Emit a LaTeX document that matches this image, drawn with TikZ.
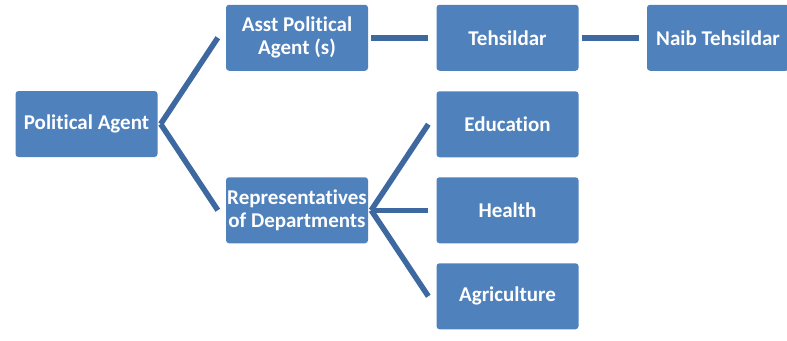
\documentclass[tikz,border=0pt]{standalone}
\usepackage{fontspec}
\setmainfont{Carlito}[Ligatures=NoCommon]
\definecolor{boxblue}{RGB}{79,129,189}
\definecolor{linkblue}{RGB}{62,104,160}

\begin{document}
\begin{tikzpicture}[x=1pt,y=1pt,grow=right,level distance=210.5pt,level 1/.style={sibling distance=172.5pt},level 2/.style={sibling distance=86pt},every node/.style = {fill=boxblue, text=white, align=center, shape=rectangle, rounded corners=3pt, minimum width=142pt, minimum height=66pt, inner sep=0pt, font=\fontsize{21}{23}\selectfont\bfseries},edge from parent/.style={draw=linkblue, line width=5.5pt},edge from parent path={([xshift=3pt]\tikzparentnode.east) -- ([xshift=-8pt]\tikzchildnode.west)}]
\useasboundingbox (0,0) rectangle (787,-340);
\node(pa) at (86.5,-124) {Political Agent}
child { node (rep) {Representatives\\of Departments}
child { node (agri) {Agriculture} }
child { node (health) {Health} }
child { node (edu) {Education} } }
child { node (asst) {Asst Political\\Agent (s)}
child { node (teh) {Tehsildar}
child { node (naib) {Naib Tehsildar} } } };
\end{tikzpicture}
\end{document}
